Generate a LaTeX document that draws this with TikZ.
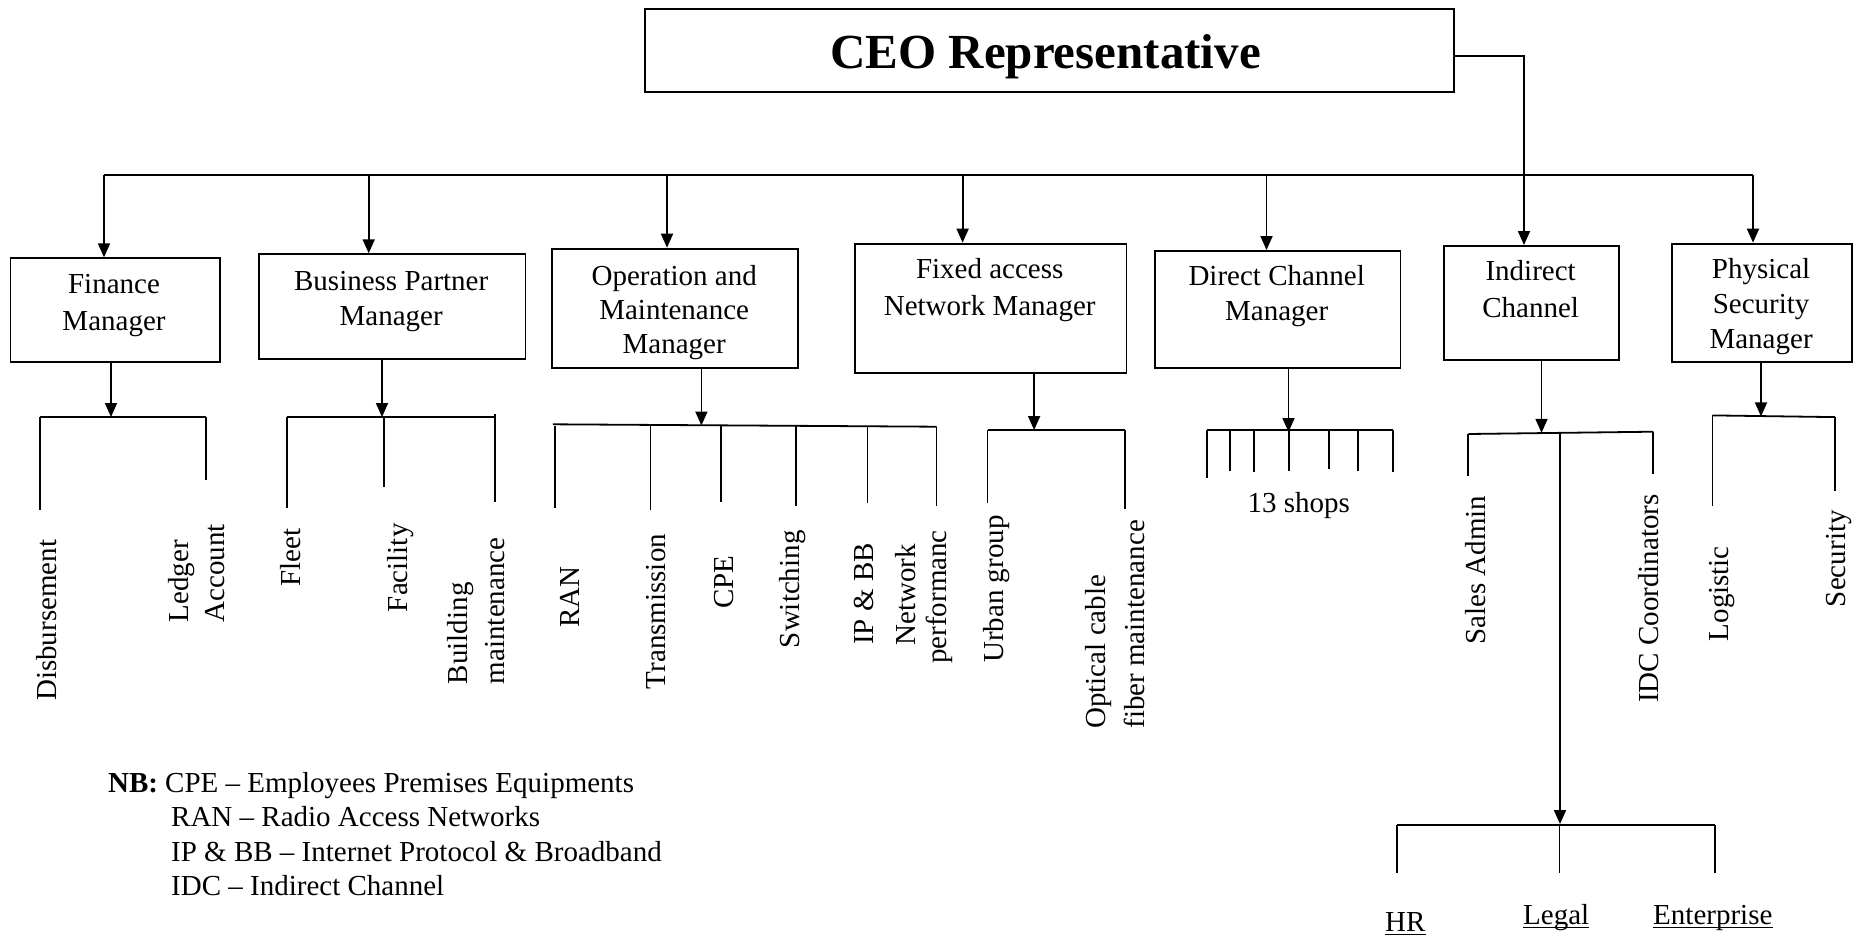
\documentclass[tikz,border=0pt]{standalone}
\usepackage{fontspec}
\setmainfont{Liberation Serif}
\usetikzlibrary{arrows.meta,calc}
\begin{document}
\begin{tikzpicture}[x=1pt,y=-1pt,
  box/.style={draw, line width=1.8pt, inner sep=0pt, anchor=north west},
  ln/.style={line width=1.8pt},
  arr/.style={line width=1.8pt, -{Triangle[length=14pt,width=12pt]}},
  btxt/.style={font=\fontsize{29}{35}\selectfont, inner sep=0pt, anchor=base},
  vtxt/.style={font=\fontsize{29}{35}\selectfont, inner sep=0pt, rotate=90, anchor=base west},
  htxt/.style={font=\fontsize{29}{35}\selectfont, inner sep=0pt, anchor=base west},
  ul/.style={line width=1.8pt}
]
\useasboundingbox (0,0) rectangle (1863,937);

% ---------- CEO ----------
\node[box, anchor=center, minimum width=809pt, minimum height=83pt] (ceo) at (1049.5,50.8) {};
\node[btxt, font=\fontsize{49}{58}\selectfont\bfseries] (ceoT) at (1045.5,68.5) {CEO Representative};

% ---------- manager boxes ----------
\node[box, minimum width=209.2pt, minimum height=103.7pt] (fin) at (9.6,257.3) {};
\node[box, minimum width=266.8pt, minimum height=104.4pt] (bp)  at (257.8,253.3) {};
\node[box, minimum width=246.4pt, minimum height=119.3pt] (om)  at (551,247.7) {};
\node[box, minimum width=271.9pt, minimum height=129.6pt] (fa)  at (853.7,242.7) {};
\node[box, minimum width=245.8pt, minimum height=117pt]   (dc)  at (1153.8,250) {};
\node[box, minimum width=175.6pt, minimum height=114.3pt] (ic)  at (1442.8,245) {};
\node[box, minimum width=179.8pt, minimum height=118.3pt] (ps)  at (1671.2,242.7) {};

\node[btxt] (finA) at (114,293) {Finance};
\node[btxt] (finB) at (114,330) {Manager};
\node[btxt] (bpA) at (391.2,290) {Business Partner};
\node[btxt] (bpB) at (391.2,325) {Manager};
\node[btxt] (omA) at (674.2,285) {Operation and};
\node[btxt] (omB) at (674.2,319) {Maintenance};
\node[btxt] (omC) at (674.2,353) {Manager};
\node[btxt] (faA) at (989.7,278) {Fixed access};
\node[btxt] (faB) at (989.7,315) {Network Manager};
\node[btxt] (dcA) at (1276.7,285) {Direct Channel};
\node[btxt] (dcB) at (1276.7,320) {Manager};
\node[btxt] (icA) at (1530.6,280) {Indirect};
\node[btxt] (icB) at (1530.6,317) {Channel};
\node[btxt] (psA) at (1761.1,278) {Physical};
\node[btxt] (psB) at (1761.1,313) {Security};
\node[btxt] (psC) at (1761.1,348) {Manager};

% ---------- top bus ----------
\coordinate (busL) at (104,175);
\coordinate (busR) at (1753,175);
\coordinate (b2) at (368.7,175);
\coordinate (b3) at (667,175);
\coordinate (b4) at (962.6,175);
\coordinate (b5) at (1266.5,175);
\draw[ln] (busL) -- (busR);
\draw[arr] (busL) -- (busL |- fin.north);
\draw[arr] (b2) -- (b2 |- bp.north);
\draw[arr] (b3) -- (b3 |- om.north);
\draw[arr] (b4) -- (b4 |- fa.north);
\draw[arr] (b5) -- (b5 |- dc.north);
\draw[arr] (busR) -- (busR |- ps.north);
\coordinate (cR) at (1524,56);
\draw[arr] (ceo.east |- cR) -- (cR) -- (cR |- ic.north);

% ---------- Finance subtree ----------
\coordinate (fT) at (111,417);
\draw[arr] (fT |- fin.south) -- (fT);
\coordinate (f1) at (40,417);
\coordinate (f2) at (205.6,417);
\draw[ln] (f1) -- (f2);
\draw[ln] (f1) -- (40,509.6);
\draw[ln] (f2) -- (205.6,479.5);
\node[vtxt] (dis) at (56,701) {Disbursement};
\node[vtxt] (ledA) at (188,622.6) {Ledger};
\node[vtxt] (ledB) at (224,622.6) {Account};

% ---------- Business partner subtree ----------
\coordinate (pT) at (382,417);
\draw[arr] (pT |- bp.south) -- (pT);
\coordinate (p1) at (286.6,417);
\coordinate (p2) at (383.7,417);
\coordinate (p3) at (494.6,417);
\draw[ln] (p1) -- (p3);
\draw[ln] (p1) -- (286.6,507.9);
\draw[ln] (p2) -- (383.7,487.3);
\draw[ln] (494.6,414) -- (494.6,501.7);
\node[vtxt] (fleet) at (300,586.6) {Fleet};
\node[vtxt] (facil) at (407,612.3) {Facility};
\node[vtxt] (bldA) at (467,684.2) {Building};
\node[vtxt] (bldB) at (504,684.2) {maintenance};

% ---------- O&M subtree ----------
\coordinate (oT) at (701.4,425.5);
\draw[arr] (oT |- om.south) -- (oT);
\coordinate (o0) at (552.8,424.3);
\coordinate (o6) at (936.5,426.7);
\draw[ln] (o0) -- (o6);
\draw[ln] (555,426) -- (555,507.9);
\draw[ln] (650.5,426) -- (650.5,509.6);
\draw[ln] (720.6,426) -- (720.6,502);
\draw[ln] (795.6,426) -- (795.6,505.5);
\draw[ln] (867.5,426) -- (867.5,503.4);
\draw[ln] (o6) -- (936.5,505.5);
\node[vtxt] (ran) at (579,627.7) {RAN};
\node[vtxt] (trans) at (665,689.4) {Transmission};
\node[vtxt] (cpe) at (733,609) {CPE};
\node[vtxt] (swit) at (799,648.3) {Switching};
\node[vtxt] (ipbb) at (873,645) {IP \& BB};
\node[vtxt, anchor=base] (netA) at (915,595) {Network};
\node[vtxt, anchor=base] (netB) at (946,597) {performanc};

% ---------- Fixed access subtree ----------
\coordinate (xT) at (1034.1,430);
\draw[arr] (xT |- fa.south) -- (xT);
\coordinate (x1) at (987.5,430);
\coordinate (x2) at (1125,430);
\draw[ln] (x1) -- (x2);
\draw[ln] (x1) -- (987.5,503);
\draw[ln] (x2) -- (1125,509);
\node[vtxt] (urban) at (1003,663) {Urban group};
\node[vtxt] (optA) at (1105,728.8) {Optical cable};
\node[vtxt] (optB) at (1144,728.8) {fiber maintenance};

% ---------- Direct channel subtree ----------
\coordinate (dT) at (1288.5,432);
\draw[arr] (dT |- dc.south) -- (dT);
\coordinate (d1) at (1207.3,430);
\coordinate (d7) at (1393.3,430);
\draw[ln] (d1) -- (d7);
\draw[ln] (d1) -- (1207.3,477.7);
\draw[ln] (1230,430) -- (1230,471);
\draw[ln] (1254,430) -- (1254,471.7);
\draw[ln] (1289.3,430) -- (1289.3,471);
\draw[ln] (1329.3,430) -- (1329.3,469.3);
\draw[ln] (1357.7,430) -- (1357.7,471);
\draw[ln] (d7) -- (1393.3,472.3);
\node[btxt] (shops) at (1298.8,512.7) {13 shops};

% ---------- Indirect channel subtree ----------
\coordinate (iT) at (1541.5,432.8);
\draw[arr] (iT |- ic.south) -- (iT);
\coordinate (i1) at (1468.3,434);
\coordinate (i2) at (1653.3,431.7);
\draw[ln] (i1) -- (i2);
\draw[ln] (i1) -- (1468.3,476);
\draw[ln] (i2) -- (1653.3,474.3);
\coordinate (iM) at (1560,432.5);
\coordinate (iL) at (1560,824);
\draw[arr] (iM) -- (iL);
\coordinate (h1) at (1396.7,825);
\coordinate (h3) at (1715,825);
\draw[ln] (h1) -- (h3);
\draw[ln] (h1) -- (1396.7,873.3);
\draw[ln] (1559.5,825) -- (1559.5,873.3);
\draw[ln] (h3) -- (1715,873.3);
\node[vtxt] (sales) at (1485,645) {Sales Admin};
\node[vtxt] (idcc) at (1658,703) {IDC Coordinators};
\node[htxt] (hr) at (1385,931) {HR};
\node[htxt] (legal) at (1523,924) {Legal};
\node[htxt] (ent) at (1653,924) {Enterprise};
\draw[ul] ($(hr.base west)+(0,3.5)$) -- ($(hr.base east)+(0,3.5)$);
\draw[ul] ($(legal.base west)+(0,3.5)$) -- ($(legal.base east)+(0,3.5)$);
\draw[ul] ($(ent.base west)+(0,3.5)$) -- ($(ent.base east)+(0,3.5)$);

% ---------- Physical security subtree ----------
\coordinate (sT) at (1761,416.4);
\draw[arr] (sT |- ps.south) -- (sT);
\coordinate (s1) at (1712.5,415.4);
\coordinate (s2) at (1835.2,417.1);
\draw[ln] (s1) -- (s2);
\draw[ln] (s1) -- (1712.5,506.2);
\draw[ln] (s2) -- (1835.2,490.8);
\node[vtxt] (logi) at (1728,641.4) {Logistic};
\node[vtxt] (secu) at (1845,607.2) {Security};

% ---------- legend ----------
\node[htxt, font=\fontsize{29}{35}\selectfont\bfseries] (nb) at (108,792) {NB:};
\node[htxt] (lg1) at (165,792) {CPE -- Employees Premises Equipments};
\node[htxt] (lg2) at (171,826.5) {RAN -- Radio Access Networks};
\node[htxt] (lg3) at (171,861) {IP \& BB -- Internet Protocol \& Broadband};
\node[htxt] (lg4) at (171,895.5) {IDC -- Indirect Channel};
\end{tikzpicture}
\end{document}
